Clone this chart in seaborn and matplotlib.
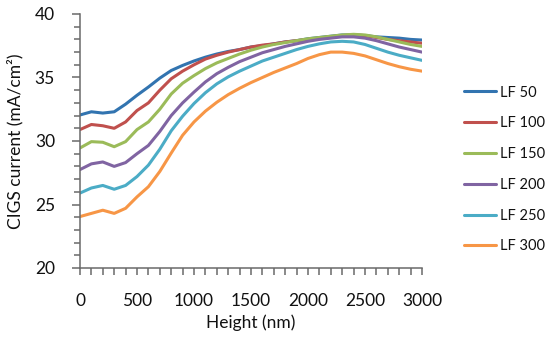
"""
plot.py  —  CIGS current vs. height for several LF values
"""
import matplotlib
matplotlib.use("Agg")
import matplotlib.pyplot as plt
from matplotlib.ticker import MultipleLocator
import pandas as pd
import seaborn as sns

# ─── Data ─────────────────────────────────────────────────────────────────────
HEIGHT = list(range(0, 3001, 100))

LF_50 = [32.05, 32.3, 32.2, 32.3, 32.9, 33.6, 34.25, 34.95, 35.55, 35.95,
         36.3, 36.6, 36.85, 37.05, 37.2, 37.4, 37.5, 37.65, 37.8, 37.9,
         38.05, 38.15, 38.25, 38.35, 38.35, 38.3, 38.2, 38.15, 38.1, 38.0,
         37.95]
LF_100 = [30.9, 31.3, 31.2, 31.0, 31.5, 32.4, 33.0, 34.0, 34.9, 35.5,
          36.0, 36.45, 36.75, 37.0, 37.2, 37.4, 37.55, 37.65, 37.8, 37.9,
          38.0, 38.1, 38.2, 38.3, 38.35, 38.3, 38.15, 38.0, 37.9, 37.8,
          37.7]
LF_150 = [29.45, 29.95, 29.9, 29.55, 29.95, 30.9, 31.5, 32.5, 33.7, 34.55,
          35.15, 35.7, 36.15, 36.5, 36.85, 37.15, 37.4, 37.6, 37.75, 37.9,
          38.05, 38.15, 38.25, 38.35, 38.4, 38.35, 38.2, 38.0, 37.8, 37.6,
          37.45]
LF_200 = [27.75, 28.2, 28.35, 28.0, 28.3, 29.0, 29.65, 30.75, 32.0, 33.0,
          33.85, 34.65, 35.3, 35.8, 36.25, 36.6, 36.95, 37.2, 37.45, 37.65,
          37.85, 38.0, 38.1, 38.2, 38.2, 38.1, 37.9, 37.65, 37.4, 37.2,
          37.0]
LF_250 = [25.9, 26.3, 26.5, 26.2, 26.5, 27.2, 28.1, 29.35, 30.8, 31.95,
          32.95, 33.8, 34.5, 35.05, 35.5, 35.9, 36.3, 36.6, 36.9, 37.2,
          37.45, 37.65, 37.8, 37.85, 37.8, 37.6, 37.3, 37.0, 36.75, 36.55,
          36.35]
LF_300 = [24.05, 24.3, 24.55, 24.3, 24.7, 25.6, 26.4, 27.6, 29.05, 30.45,
          31.5, 32.35, 33.05, 33.65, 34.15, 34.6, 35.0, 35.4, 35.75, 36.1,
          36.5, 36.8, 37.0, 37.0, 36.9, 36.7, 36.4, 36.1, 35.85, 35.65,
          35.5]

SERIES_NAMES = ["LF 50", "LF 100", "LF 150", "LF 200", "LF 250", "LF 300"]
SERIES_VALUES = [LF_50, LF_100, LF_150, LF_200, LF_250, LF_300]
COLORS = ["#3274B0", "#C0504D", "#9BBB59", "#8064A2", "#4BACC6", "#F79646"]

X_TICKS = [0, 500, 1000, 1500, 2000, 2500, 3000]
Y_TICKS = [20, 25, 30, 35, 40]

# ─── Long-form table ──────────────────────────────────────────────────────────
df = pd.concat(
    [pd.DataFrame({"Height": HEIGHT, "Current": vals, "Series": name})
     for name, vals in zip(SERIES_NAMES, SERIES_VALUES)],
    ignore_index=True,
)

# ─── Style ────────────────────────────────────────────────────────────────────
sns.set_style("ticks")
plt.rcParams["font.family"] = ["Lato", "DejaVu Sans"]

AXIS_GREY = "#6a6a6a"
TEXT = "#111111"

fig = plt.figure(figsize=(5.5, 3.41), dpi=100)
ax = fig.add_axes([80 / 550, 1 - 268 / 341, 342 / 550, 254 / 341])

sns.lineplot(
    data=df, x="Height", y="Current", hue="Series",
    hue_order=SERIES_NAMES, palette=COLORS,
    linewidth=2.2, ax=ax, legend=True,
)
for line in ax.get_lines():
    line.set_solid_joinstyle("round")
    line.set_solid_capstyle("round")

ax.set_xlim(0, 3000)
ax.set_ylim(20, 40)
ax.set_xticks(X_TICKS)
ax.set_yticks(Y_TICKS)
ax.xaxis.set_minor_locator(MultipleLocator(100))
ax.yaxis.set_minor_locator(MultipleLocator(1))

ax.tick_params(axis="x", which="both", bottom=True, direction="out",
               length=5, width=1.1, color=AXIS_GREY)
ax.tick_params(axis="x", which="major", pad=13, labelsize=12.5,
               labelcolor=TEXT)
ax.tick_params(axis="y", which="both", left=True, direction="out",
               width=1.1, color=AXIS_GREY)
ax.tick_params(axis="y", which="major", length=6, pad=12, labelsize=12.5,
               labelcolor=TEXT)
ax.tick_params(axis="y", which="minor", length=4)

for side in ["top", "right"]:
    ax.spines[side].set_visible(False)
for side in ["left", "bottom"]:
    ax.spines[side].set_color(AXIS_GREY)
    ax.spines[side].set_linewidth(1.1)

ax.set_xlabel("Height (nm)", fontsize=12.5, color=TEXT, labelpad=4)
ax.set_ylabel("CIGS current (mA/cm²)", fontsize=12.5, color=TEXT, labelpad=8)

leg = ax.legend(
    loc="center left", bbox_to_anchor=(458 / 550, 1 - 169.5 / 341),
    bbox_transform=fig.transFigure, frameon=False, fontsize=10.5,
    handlelength=2.2, handletextpad=0.25, labelspacing=1.15,
    borderaxespad=0,
)
for line in leg.get_lines():
    line.set_linewidth(2.2)
for t in leg.get_texts():
    t.set_color(TEXT)

fig.savefig("out.png", dpi=100, facecolor="white")
